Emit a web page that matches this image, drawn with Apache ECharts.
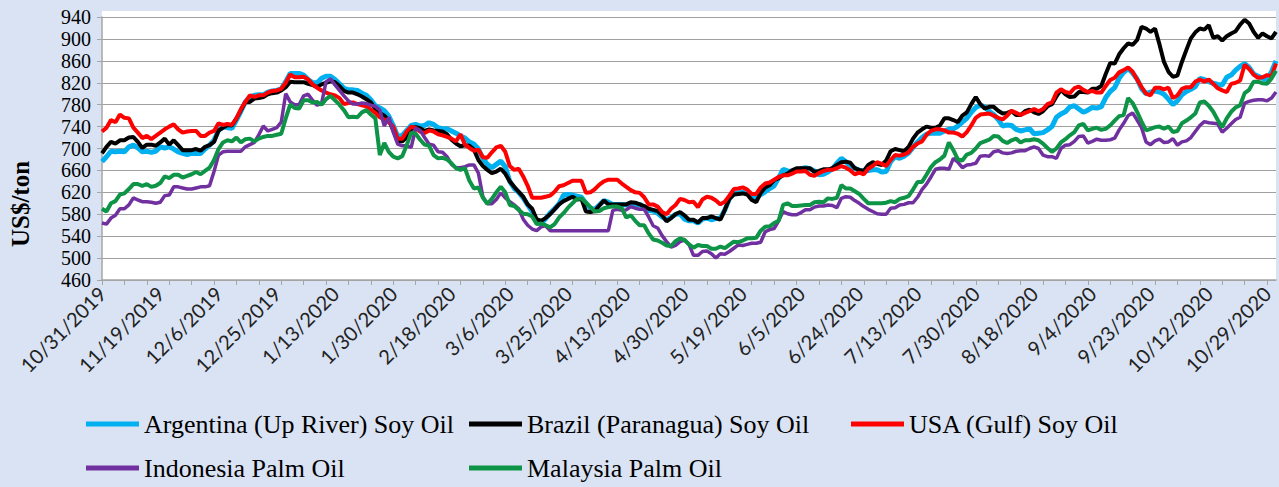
<!DOCTYPE html>
<html>
<head>
<meta charset="utf-8">
<script src="https://cdn.jsdelivr.net/npm/echarts@6/dist/echarts.min.js"></script>
<style>
html,body{margin:0;padding:0;background:#DAE3F3;}
#chart{width:1279px;height:487px;}
</style>
</head>
<body>
<div id="chart"></div>
<script>
// Category axis: every weekday from 10/31/2019 (Excel-style date labels)
const startDate = [2019, 9, 31];
const categoryCount = 263;
const seriesNames = ['Argentina (Up River) Soy Oil','Brazil (Paranagua) Soy Oil','USA (Gulf) Soy Oil','Indonesia Palm Oil','Malaysia Palm Oil'];
const yTicks = {min:460, max:940, step:40};

const argentina = [676,685,695,694,695,694,703,706,701,694,
695,693,695,703,701,703,699,694,691,689,
691,691,691,699,706,715,733,740,738,737,
752,768,785,794,797,798,798,803,805,806,
809,822,837,837,837,834,826,820,820,828,
832,832,826,818,810,807,807,806,801,797,
789,778,774,769,759,742,722,724,733,742,
744,741,742,747,744,738,736,736,732,728,
723,719,712,708,699,682,671,665,671,677,
667,640,627,620,610,597,585,566,563,572,
582,590,599,615,616,615,613,611,600,591,
589,597,605,602,598,598,598,597,598,598,
598,592,587,586,582,575,570,574,580,581,
571,568,568,564,571,573,570,572,573,588,
608,618,619,620,617,612,610,616,621,627,
632,646,662,659,658,660,663,665,663,659,
652,653,657,663,673,682,676,668,664,660,
659,660,661,661,657,658,676,685,682,686,
692,702,712,720,726,728,728,728,732,735,
736,741,748,755,766,775,779,776,768,762,
753,741,743,742,735,732,734,736,727,728,
729,734,740,757,763,767,776,778,772,766,
770,775,774,776,793,804,811,828,839,846,
838,827,809,800,803,805,803,799,790,780,
787,798,804,808,813,828,826,822,819,817,
816,830,834,843,850,855,848,836,832,828,
826,840,860];

const brazil = [691,703,712,709,715,715,720,721,712,701,
707,707,705,711,718,707,715,706,697,697,
697,699,696,703,706,712,733,738,743,742,
755,770,785,785,791,792,794,799,801,802,
806,812,822,821,821,821,818,816,812,817,
820,823,821,814,805,802,802,799,795,790,
784,772,765,760,752,733,714,713,720,735,
739,737,732,735,733,732,731,726,716,709,
704,706,705,698,679,668,661,655,658,663,
654,640,630,621,612,598,590,571,568,573,
580,589,598,604,608,612,607,608,585,584,
586,596,605,598,598,598,598,598,602,601,
598,595,590,588,586,578,567,573,580,584,
578,570,570,565,573,573,576,573,570,588,
608,616,617,618,616,606,602,619,629,633,
642,646,651,654,660,664,664,664,664,657,
659,662,662,664,670,675,676,674,664,661,
659,670,675,672,670,678,695,699,697,695,
703,718,729,735,740,738,738,742,755,755,
752,748,760,766,781,794,781,773,776,776,
769,764,765,768,761,761,768,771,766,763,
768,777,781,795,807,799,794,795,803,803,
802,809,809,814,836,856,855,872,883,892,
889,898,922,919,913,919,890,858,840,831,
833,858,880,901,912,919,917,925,902,905,
897,905,910,914,926,935,928,913,902,910,
905,901,913];

const usa = [731,738,752,748,762,756,755,738,729,719,
723,717,723,729,735,740,744,735,729,731,
732,732,723,723,729,732,746,743,745,743,
755,772,785,797,794,797,797,802,805,806,
809,820,835,830,830,831,826,817,811,806,
802,799,797,792,781,783,784,781,779,777,
771,765,757,753,748,740,718,718,731,740,
737,731,728,733,731,726,724,721,718,713,
726,707,701,696,698,684,683,693,702,705,
694,668,661,663,649,632,610,610,610,612,
614,621,631,633,637,641,641,641,619,620,
626,634,640,643,643,643,636,630,624,620,
619,611,598,598,594,584,580,590,597,608,
606,602,603,593,607,612,610,605,598,603,
614,626,627,629,625,617,617,629,636,638,
643,648,651,651,654,658,658,659,652,650,
655,659,661,661,664,668,665,660,653,656,
653,663,668,675,672,668,679,688,687,689,
693,703,709,713,725,732,735,735,733,729,
729,727,722,730,742,756,762,763,764,760,
756,753,760,769,765,761,765,768,772,768,
772,781,784,802,808,803,801,810,813,807,
803,805,802,802,814,825,829,839,843,848,
840,826,812,800,797,811,811,808,811,792,
797,809,812,812,822,826,822,826,818,810,
806,803,818,820,824,853,845,835,829,830,
834,832,855];

const indonesia = [564,562,573,578,590,590,597,610,606,603,
603,602,600,602,614,615,630,630,628,626,
626,628,630,630,632,658,688,694,695,695,
695,695,703,707,711,725,741,732,735,738,
748,800,785,780,780,796,799,788,779,782,
822,827,816,806,796,787,781,781,783,782,
779,777,770,741,757,730,708,705,705,702,
737,733,720,708,706,694,693,685,671,665,
665,667,670,670,655,612,599,599,607,619,
610,603,597,590,571,560,553,550,557,559,
550,550,550,550,550,550,550,550,550,550,
550,550,550,550,587,589,587,588,594,591,
589,589,575,559,555,541,530,520,523,530,
533,525,505,505,512,513,508,500,508,507,
512,518,524,523,525,527,527,529,548,552,
554,568,585,581,579,579,583,588,588,593,
595,595,597,596,592,609,612,611,605,600,
594,589,585,581,580,580,591,592,597,598,
601,601,611,625,635,648,662,664,664,662,
682,675,665,670,671,673,686,687,686,694,
696,692,691,692,695,696,696,700,703,700,
688,685,685,682,700,706,707,713,722,723,
710,713,717,715,715,716,719,734,746,760,
765,752,738,712,707,714,717,711,712,718,
706,712,714,720,731,742,749,747,746,745,
730,737,745,753,757,783,786,788,789,789,
787,792,803];

const malaysia = [590,585,600,604,616,618,626,635,635,632,
635,630,632,637,649,646,652,652,647,650,
653,657,653,659,665,679,699,711,715,713,
720,711,717,718,713,718,721,723,723,725,
727,755,780,774,773,788,788,784,785,780,
790,796,788,780,770,757,758,757,766,770,
762,755,688,710,694,685,682,686,706,729,
727,716,707,705,688,682,683,680,673,664,
661,664,641,627,629,610,599,608,620,630,
620,597,595,588,581,580,576,562,563,560,
556,562,574,582,592,600,608,609,601,593,
585,586,591,593,594,594,591,574,578,568,
560,560,545,534,532,528,523,522,531,536,
533,525,519,524,522,522,517,517,521,518,
524,530,529,532,536,536,537,550,557,558,
564,568,597,600,595,595,596,597,597,602,
603,602,609,608,610,633,627,627,622,617,
608,600,600,600,600,601,604,602,608,610,
613,625,639,639,652,666,675,680,687,711,
697,680,678,689,692,700,710,713,716,723,
722,714,710,715,718,711,715,715,717,715,
709,701,694,700,711,717,724,730,742,745,
733,736,738,734,736,742,751,759,761,792,
783,767,749,733,736,739,740,736,740,730,
732,746,751,757,764,784,786,778,767,752,
739,755,767,775,779,801,807,822,822,819,
818,828,842];

function buildCategories(){
  const out = [];
  const d = new Date(startDate[0], startDate[1], startDate[2]);
  while (out.length < categoryCount) {
    const wd = d.getDay();
    if (wd !== 0 && wd !== 6) out.push((d.getMonth()+1) + '/' + d.getDate() + '/' + d.getFullYear());
    d.setDate(d.getDate() + 1);
  }
  return out;
}
const categories = buildCategories();

const colors = ['#00B0F0','#000000','#FF0000','#7030A0','#0E9447'];
const widths = [5, 4, 4, 3.5, 4];
const values = [argentina, brazil, usa, indonesia, malaysia];

const chart = echarts.init(document.getElementById('chart'), null, {renderer:'svg', width:1279, height:487});
const legendPos = [[86,411],[469,411],[851,411],[86,455],[469,455]];
const option = {
  animation:false,
  backgroundColor:'#DAE3F3',
  grid:{left:102, right:3, top:17, bottom:207, show:true, backgroundColor:'#FFFFFF', borderWidth:0},
  graphic:[
    {type:'rect', shape:{x:102, y:11, width:1174, height:6}, style:{fill:'#FFFFFF'}, silent:true, z:-1},
    {type:'text', x:20, y:204, rotation:Math.PI/2, style:{text:'US$/ton', font:'bold 25px "Liberation Serif"', fill:'#000', align:'center', verticalAlign:'middle'}}
  ],
  legend: seriesNames.map((n,k)=>({
    data:[n], left:legendPos[k][0], top:legendPos[k][1], padding:0,
    icon:'rect', itemWidth:53, itemHeight:5, selectedMode:false,
    textStyle:{fontFamily:'Liberation Serif', fontSize:26, color:'#000'}
  })),
  xAxis:{
    type:'category', data:categories, boundaryGap:false,
    axisLine:{lineStyle:{color:'#A6A6A6', width:1.5}},
    axisTick:{show:true, interval:4, length:5, lineStyle:{color:'#A6A6A6'}},
    axisLabel:{interval:12, rotate:45, fontFamily:'Lato', fontSize:20, color:'#222', margin:10},
    splitLine:{show:false}
  },
  yAxis:{
    type:'value', min:yTicks.min, max:yTicks.max, interval:yTicks.step,
    axisLine:{show:true, lineStyle:{color:'#A6A6A6', width:1.5}},
    axisTick:{show:true, length:5, lineStyle:{color:'#A6A6A6'}},
    axisLabel:{fontFamily:'Liberation Serif', fontSize:20, color:'#000', margin:11},
    splitLine:{show:true, lineStyle:{color:'#A0A0A0', width:1}}
  },
  series: seriesNames.map((n,k)=>({
    name:n, type:'line', data:values[k], showSymbol:false, symbol:'none',
    color:colors[k], lineStyle:{color:colors[k], width:widths[k]}, z:2+k
  }))
};
chart.setOption(option);
</script>
</body>
</html>
